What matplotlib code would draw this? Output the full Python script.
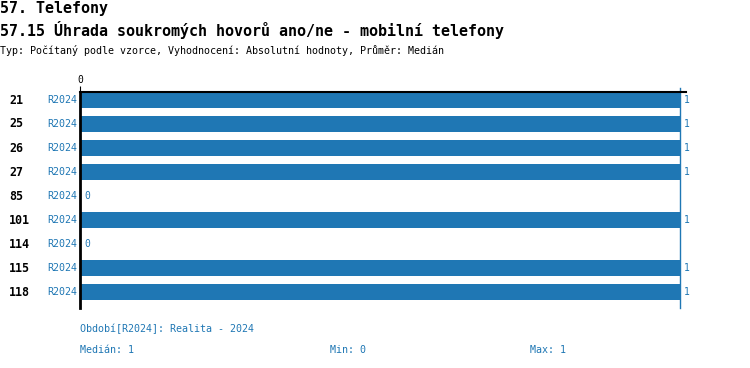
import matplotlib
matplotlib.use('Agg')
import matplotlib.pyplot as plt

plt.rcParams['font.family'] = ['DejaVu Sans Mono']

categories = ['21', '25', '26', '27', '85', '101', '114', '115', '118']
values = [1, 1, 1, 1, 0, 1, 0, 1, 1]
period = 'R2024'
title = '57. Telefony'
subtitle = '57.15 Úhrada soukromých hovorů ano/ne - mobilní telefony'
info = 'Typ: Počítaný podle vzorce, Vyhodnocení: Absolutní hodnoty, Průměr: Medián'
footer_period = 'Období[R2024]: Realita - 2024'
stats = ['Medián: 1', 'Min: 0', 'Max: 1']

blue = '#1f77b4'
W, H = 750, 368

fig = plt.figure(figsize=(W / 100, H / 100), dpi=100)

def fx(px):
    return px / W

def fy(py):
    return 1 - py / H

# axes in pixel coords: x from 80 to 686, y from 92 to 308
ax = fig.add_axes([fx(80), fy(308), fx(606), (308 - 92) / H])
y = list(range(len(categories)))
ax.barh(y, values, height=0.667, color=blue)
ax.set_xlim(0, 1.01)
ax.set_ylim(len(categories) - 0.333, -0.333)

for s in ['bottom', 'right']:
    ax.spines[s].set_visible(False)
ax.spines['top'].set_linewidth(1.5)
ax.spines['left'].set_linewidth(2)

ax.xaxis.tick_top()
ax.set_xticks([0])
ax.set_xticklabels(['0'])
ax.tick_params(axis='x', length=4, labelsize=7, pad=1)
ax.set_yticks([])

ax.plot([1, 1], [-0.5, len(categories) - 0.333], color=blue, lw=1, clip_on=False)

for i, (c, v) in enumerate(zip(categories, values)):
    ax.text(v + 0.007, i, str(v), color=blue, fontsize=7, va='center', ha='left')
    fig.text(fx(9), fy(100 + 24 * i), c, fontsize=8.4, fontweight='bold', va='center', ha='left')
    fig.text(fx(77), fy(100 + 24 * i), period, fontsize=7.2, color=blue, va='center', ha='right')

fig.text(0, fy(8), title, fontsize=10.8, fontweight='bold', va='center', ha='left')
fig.text(0, fy(30), subtitle, fontsize=10.8, fontweight='bold', va='center', ha='left')
fig.text(0, fy(50), info, fontsize=7.2, va='center', ha='left')

fig.text(fx(80), fy(329), footer_period, fontsize=7.2, color=blue, va='center', ha='left')
for xpos, s in zip([80, 330, 530], stats):
    fig.text(fx(xpos), fy(350), s, fontsize=7.2, color=blue, va='center', ha='left')

fig.savefig('out.png', dpi=100)
